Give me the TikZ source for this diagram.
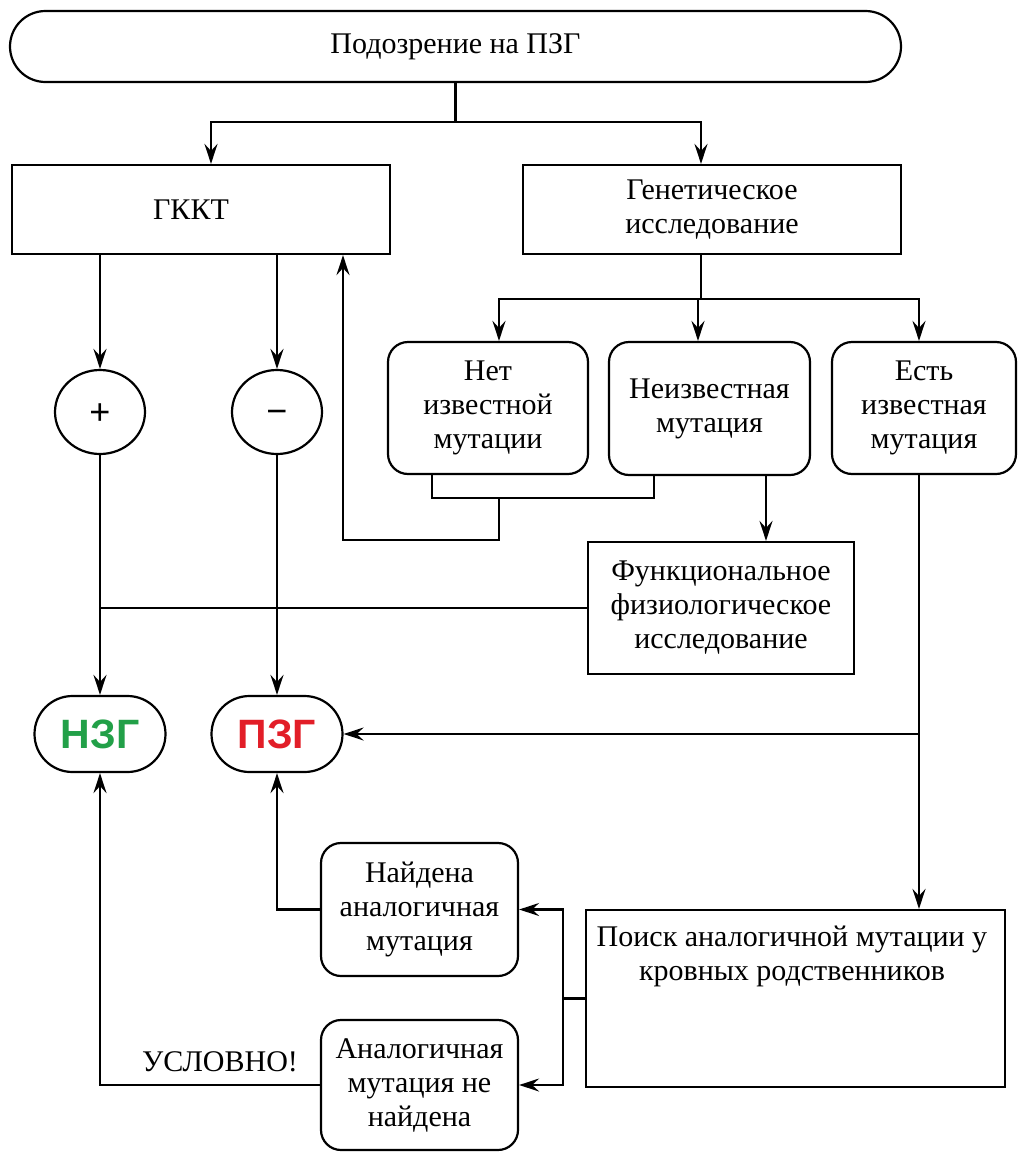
\documentclass[tikz,border=0pt]{standalone}
\usepackage{fontspec}
\setmainfont{Liberation Serif}
\newfontfamily\sansfnt{Liberation Sans}
\usetikzlibrary{shapes.geometric,shapes.misc,arrows.meta}
\definecolor{nzgreen}{RGB}{34,160,72}
\definecolor{pzred}{RGB}{226,30,40}
\begin{document}
\begin{tikzpicture}[x=1pt,y=-1pt,
  every node/.style={font=\fontsize{30}{34}\selectfont, line width=2.2pt},
  box/.style={draw, rectangle, inner sep=0pt, align=center},
  rbox/.style={draw, rectangle, rounded corners=20pt, inner sep=0pt, align=center},
  stad/.style={draw, rounded rectangle, inner sep=0pt},
  circ/.style={draw, ellipse, inner sep=0pt, minimum width=90pt, minimum height=84pt},
  sgn/.style={inner sep=0pt, font=\sansfnt\fontsize{36}{40}\selectfont},
  res/.style={stad, minimum width=131pt, minimum height=76pt, font=\sansfnt\bfseries\fontsize{41}{44}\selectfont},
  conn/.style={line width=2.2pt},
  arr/.style={conn, -{Stealth[length=20pt,width=13pt,inset=7pt]}},
]
\useasboundingbox (0,0) rectangle (1024,1154);

\node[stad, minimum width=891pt, minimum height=71pt] (top) at (455.5,46.5) {Подозрение на ПЗГ};
\node[box, minimum width=378pt, minimum height=89pt] (gkkt) at (201,209.5) {\hspace*{-20pt}ГККТ};
\node[box, minimum width=378pt, minimum height=89pt] (gen) at (712,209.5) {Генетическое\\исследование};
\node[rbox, minimum width=200pt, minimum height=132pt] (net) at (488,408) {Нет\\известной\\мутации};
\node[rbox, minimum width=201pt, minimum height=133pt] (neizv) at (709.5,408.5) {Неизвестная\\мутация};
\node[rbox, minimum width=184pt, minimum height=132pt] (est) at (924,408) {Есть\\известная\\мутация};
\node[box, minimum width=266pt, minimum height=132pt] (func) at (721,608) {Функциональное\\физиологическое\\исследование};
\node[circ] (plus) at (100,412) {};
\node[circ] (minus) at (277,412) {};
\node[sgn] (plustxt) at ([yshift=-2pt]plus.center) {+};
\node[sgn] (minustxt) at ([yshift=-5pt]minus.center) {−};
\node[res, text=nzgreen] (nzg) at (100,734) {НЗГ};
\node[res, text=pzred] (pzg) at (277,734) {ПЗГ};
\node[box, minimum width=419pt, minimum height=177pt] (poisk) at (795.5,998.5) {};
\node[align=center] (poisktxt) at (792,956) {Поиск аналогичной мутации у\\кровных родственников};
\node[rbox, minimum width=197pt, minimum height=133pt] (naid) at (419.5,909.5) {Найдена\\аналогичная\\мутация};
\node[rbox, minimum width=197pt, minimum height=130pt] (anal) at (419.5,1085) {Аналогичная\\мутация не\\найдена};
\node (usl) at (220,1062) {УСЛОВНО!};

\draw[conn] (top.south) -- ++(0,39) coordinate (j1);
\draw[arr] (j1) -| ([xshift=10pt]gkkt.north);
\draw[arr] (j1) -| ([xshift=-11pt]gen.north);
\draw[conn] ([xshift=-11pt]gen.south) -- ++(0,44) coordinate (j2);
\draw[arr] (j2) -| ([xshift=11pt]net.north);
\draw[arr] (j2) -| ([xshift=-11.5pt]neizv.north);
\draw[arr] (j2) -| ([xshift=-5pt]est.north);
\draw[conn] ([xshift=-56pt]net.south) -- ++(0,23) -| ([xshift=-55.5pt]neizv.south);
\coordinate (j3) at (499,497);
\draw[arr] (j3) -- ++(0,43) -| ([xshift=142pt]gkkt.south);
\draw[arr] ([xshift=56.5pt]neizv.south) -- ([xshift=45pt]func.north);
\draw[conn] (func.west) -- (func.west -| plus.south);
\draw[arr] ([xshift=-101pt]gkkt.south) -- (plus.north);
\draw[arr] ([xshift=76pt]gkkt.south) -- (minus.north);
\draw[arr] (plus.south) -- (nzg.north);
\draw[arr] (minus.south) -- (pzg.north);
\draw[arr] ([xshift=-5pt]est.south) -- ([xshift=123.5pt]poisk.north);
\coordinate (j4) at (919,734);
\draw[arr] (j4) -- (pzg.east);
\draw[conn] (poisk.west) -- ++(-22,0) coordinate (j5);
\draw[arr] (j5) |- (naid.east);
\draw[arr] (j5) |- (anal.east);
\draw[arr] (naid.west) -| (pzg.south);
\draw[arr] (anal.west) -| (nzg.south);
\end{tikzpicture}
\end{document}
